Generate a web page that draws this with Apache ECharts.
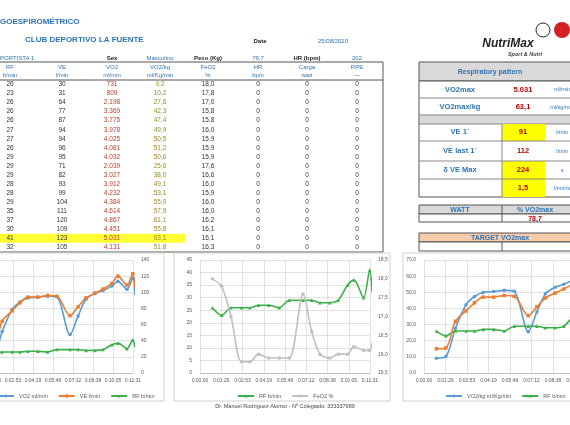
<!DOCTYPE html>
<html><head><meta charset="utf-8">
<script src="https://cdn.jsdelivr.net/npm/echarts@6/dist/echarts.min.js"></script>
<style>html,body{margin:0;padding:0;background:#fff}#c{width:570px;height:425px}</style>
</head><body><div id="c"></div>
<script>
// ---- data ----
const times = [50, 88, 126, 169, 203, 238, 280, 322, 363, 419, 454, 488, 527, 562, 600, 626, 665, 690, 700];
const RF = [26,23,26,26,26,27,27,26,29,29,29,28,28,29,35,37,30,41,32];
const VE = [30,31,64,77,87,94,94,96,95,71,82,93,99,104,111,120,109,123,105];
const VO2 = [731,809,2198,3369,3775,3978,4025,4081,4032,2039,3027,3912,4232,4384,4614,4867,4451,5031,4131];
const VO2kg = [9.2,10.2,27.6,42.3,47.4,49.9,50.5,51.2,50.6,25.6,38.0,49.1,53.1,55.0,57.9,61.1,55.8,63.1,51.8];
const FeO2 = [18.0,17.8,17.0,15.8,15.8,16.0,15.9,15.9,15.9,17.6,16.6,16.0,15.9,16.0,16.0,16.2,16.1,16.1,16.3];
const HR = [0,0,0,0,0,0,0,0,0,0,0,0,0,0,0,0,0,0,0];
const Carga = [0,0,0,0,0,0,0,0,0,0,0,0,0,0,0,0,0,0,0];
const RPE = [0,0,0,0,0,0,0,0,0,0,0,0,0,0,0,0,0,0,0];
const colHead1 = ['RF','VE','VO2','VO2/kg','FeO2','HR','Carga','RPE'];
const colHead2 = ['b/min','l/min','ml/min','ml/Kg/min','%','bpm','watt','—'];
const peakRow = 17;

const F = 'Liberation Sans, Arial, sans-serif';
const BLUE = '#2e75b6', C_VO2 = '#5b9bd5', C_VE = '#ed7d31', C_RF = '#3cb04a', C_FE = '#c0c0c0';
const colX = [10, 62, 112, 160, 208, 258, 307, 357];
const G = [];
function txt(x, y, s, o) {
  G.push({type:'text', x, y, z:10, style:Object.assign({text:s, font:'6.5px '+F, fill:'#222', align:'center', verticalAlign:'middle'}, o||{})});
}
function rect(x, y, w, h, fill, stroke) {
  G.push({type:'rect', shape:{x,y,width:w,height:h}, z:1, style:{fill:fill||'none', stroke:stroke||null, lineWidth:1}});
}
const thou = v => v >= 1000 ? Math.floor(v/1000) + '.' + String(v%1000).padStart(3,'0') : String(v);
const dec = v => v.toFixed(1).replace('.', ',');

txt(0, 22, 'GOESPIROMÉTRICO', {align:'left', font:'bold 8px '+F, fill:BLUE});
txt(25, 40, 'CLUB DEPORTIVO LA FUENTE', {align:'left', font:'bold 8px '+F, fill:BLUE});
txt(260, 41, 'Date', {font:'bold 6px '+F});
txt(333, 41, '25/08/2020', {font:'6px '+F, fill:BLUE});
txt(0, 58, 'PORTISTA 1', {align:'left', font:'6px '+F, fill:BLUE});
txt(112, 58, 'Sex', {font:'bold 6px '+F});
txt(160, 58, 'Masculino', {font:'6px '+F, fill:BLUE});
txt(208, 58, 'Peso (Kg)', {font:'bold 6px '+F});
txt(258, 58, '79,7', {font:'6px '+F, fill:BLUE});
txt(307, 58, 'HR (bpm)', {font:'bold 6px '+F});
txt(357, 58, '202', {font:'6px '+F, fill:BLUE});
rect(-2, 62, 385, 190, null, '#555');
G.push({type:'line', shape:{x1:-2,y1:80,x2:383,y2:80}, z:2, style:{stroke:'#555', lineWidth:1}});
colHead1.forEach((h,i)=>{ txt(colX[i], 67, h, {fill:BLUE, font:'6px '+F}); txt(colX[i], 75.5, colHead2[i], {fill:BLUE, font:'6px '+F}); });
rect(-2, peakRow*9.05+80, 187, 9, '#ffff33');
for (let r = 0; r < RF.length; r++) {
  const y = 84.5 + r*9.05;
  const row = [RF[r], VE[r], thou(VO2[r]), dec(VO2kg[r]), dec(FeO2[r]), HR[r], Carga[r], RPE[r]];
  const cols = ['#333','#333','#c0392b','#9a8c2a','#333','#333','#333','#333'];
  row.forEach((v,i)=>txt(colX[i], y, String(v), {fill:cols[i]}));
}

txt(508, 44, 'NutriMax', {font:'italic bold 12px '+F, fill:'#222'});
txt(525, 54, 'Sport & Nutri', {font:'italic bold 5.5px '+F, fill:'#444'});
G.push({type:'circle', shape:{cx:562, cy:30, r:8}, z:3, style:{fill:'#d42020'}});
G.push({type:'circle', shape:{cx:543, cy:30, r:7}, z:3, style:{fill:'none', stroke:'#222', lineWidth:1}});
rect(419, 62, 160, 19, '#d9d9d9', '#555');
txt(490, 72, 'Respiratory pattern', {font:'bold 7px '+F, fill:BLUE});
rect(419, 81, 160, 116, '#fff', '#555');
rect(419, 115, 160, 9, '#d9d9d9', '#888');
[98, 141, 161, 179].forEach(y=>G.push({type:'line', shape:{x1:419,y1:y,x2:579,y2:y}, z:2, style:{stroke:'#888'}}));
rect(502, 124, 43, 17, '#ffff00'); rect(502, 161, 43, 36, '#ffff00');
G.push({type:'line', shape:{x1:502,y1:124,x2:502,y2:197}, z:2, style:{stroke:'#888'}});
const rpLab = ['VO2max','VO2max/kg','VE 1´','VE last 1´','δ VE Max',''];
const rpVal = ['5.031','63,1','91','112','224','1,5'];
const rpUnit = ['ml/min','ml/kg/min','l/min','l/min','s','l/min/s'];
const rpY = [89.5, 107, 132, 151, 170, 188];
rpLab.forEach((l,i)=>{ txt(460, rpY[i], l, {font:'bold 7.5px '+F, fill:BLUE}); txt(523, rpY[i], rpVal[i], {font:'bold 7.5px '+F, fill:'#c00000'}); txt(562, rpY[i], rpUnit[i], {font:'5.5px '+F, fill:BLUE}); });
rect(419, 205, 160, 9, '#d9d9d9', '#555'); rect(419, 214, 160, 8, '#fff', '#555');
G.push({type:'line', shape:{x1:502,y1:205,x2:502,y2:222}, z:2, style:{stroke:'#555'}});
txt(460, 210, 'WATT', {font:'bold 7px '+F, fill:BLUE});
txt(535, 210, '% VO2max', {font:'bold 7px '+F, fill:BLUE});
txt(535, 219, '78,7', {font:'bold 7px '+F, fill:'#c00000'});
rect(419, 233, 160, 9, '#f8cbad', '#555'); rect(419, 242, 160, 9, '#fff', '#555');
G.push({type:'line', shape:{x1:502,y1:242,x2:502,y2:251}, z:2, style:{stroke:'#555'}});
txt(500, 238, 'TARGET VO2max', {font:'bold 7px '+F, fill:BLUE});
rect(-5, 253, 169, 148, 'none', '#d0d0d0');
rect(174, 253, 216, 148, 'none', '#d0d0d0');
rect(403, 253, 180, 148, 'none', '#d0d0d0');
txt(285, 406, 'Dr. Manuel Rodríguez Alonso - Nº Colegiado: 333337989', {font:'5.5px '+F, fill:'#444'});

const pair = a => a.map((v,i)=>[times[i], v]);
const fmtT = v => { const s = Math.round(v); const m = Math.floor(s/60), ss = s%60; return '0:' + String(m).padStart(2,'0') + ':' + String(ss).padStart(2,'0'); };
const lbl = {fontSize:5, color:'#595959', fontFamily:F};
const sl = {show:true, lineStyle:{color:'#d9d9d9', width:0.8}};
const grids = [
  {left:-27, width:160, top:260, height:113},
  {left:200, width:170, top:260, height:113},
  {left:424, width:172, top:260, height:113}
].map(g=>Object.assign(g, {outerBoundsMode:'none', containLabel:false}));
const xAxes = grids.map((g,i)=>({type:'value', gridIndex:i, min:0, max:691.2, interval:86.4, axisLabel:Object.assign({formatter:fmtT, margin:5, hideOverlap:false}, lbl), splitLine:sl, axisLine:{lineStyle:{color:'#bfbfbf'}}, axisTick:{show:false}}));
const yAxes = [
  {gridIndex:0, min:0, max:6000, interval:1000, position:'left', axisLabel:{show:false}, splitLine:{show:false}},
  {gridIndex:0, min:0, max:140, interval:20, position:'right', axisLabel:lbl, splitLine:sl},
  {gridIndex:1, min:0, max:45, interval:5, position:'left', axisLabel:lbl, splitLine:sl},
  {gridIndex:1, min:15.5, max:18.5, interval:0.5, position:'right', axisLabel:Object.assign({formatter:v=>v.toFixed(1).replace('.',',')}, lbl), splitLine:{show:false}},
  {gridIndex:2, min:0, max:70, interval:10, position:'left', axisLabel:Object.assign({formatter:v=>v.toFixed(1).replace('.',',')}, lbl), splitLine:sl},
  {gridIndex:2, min:0, max:140, interval:20, position:'right', axisLabel:{show:false}, splitLine:{show:false}}
];
yAxes.forEach(a=>{a.type='value'; a.axisLine={show:false}; a.axisTick={show:false};});
function ser(name, data, xi, yi, color, sym) {
  return {name, type:'line', xAxisIndex:xi, yAxisIndex:yi, data:pair(data), smooth:0.3, symbol:sym, symbolSize:3.5, itemStyle:{color}, lineStyle:{color, width:1.6}};
}
const series = [
  ser('VO2 ml/min', VO2, 0, 0, C_VO2, 'circle'),
  ser('VE l/min', VE, 0, 1, C_VE, 'rect'),
  ser('RF b/min', RF, 0, 1, C_RF, 'triangle'),
  ser('RF b/min', RF, 1, 2, C_RF, 'triangle'),
  ser('FeO2 %', FeO2, 1, 3, C_FE, 'circle'),
  ser('VO2/kg ml/Kg/min', VO2kg, 2, 4, C_VO2, 'circle'),
  ser('RF b/min', RF, 2, 4, C_RF, 'triangle'),
  ser('VE l/min', VE, 2, 5, C_VE, 'rect')
];
const lg = (data, left) => ({data, left, top:388, width:400, orient:'horizontal', itemWidth:16, itemHeight:4, itemGap:10, textStyle:{fontSize:5.5, color:'#595959', fontFamily:F}, selectedMode:false});
const chart = echarts.init(document.getElementById('c'), null, {renderer:'canvas'});
chart.setOption({
  animation:false,
  grid:grids, xAxis:xAxes, yAxis:yAxes, series,
  legend:[lg(['VO2 ml/min','VE l/min','RF b/min'], -8), lg(['RF b/min','FeO2 %'], 232), lg(['VO2/kg ml/Kg/min','RF b/min','VE l/min'], 440)],
  graphic:{elements:G}
});
</script></body></html>
